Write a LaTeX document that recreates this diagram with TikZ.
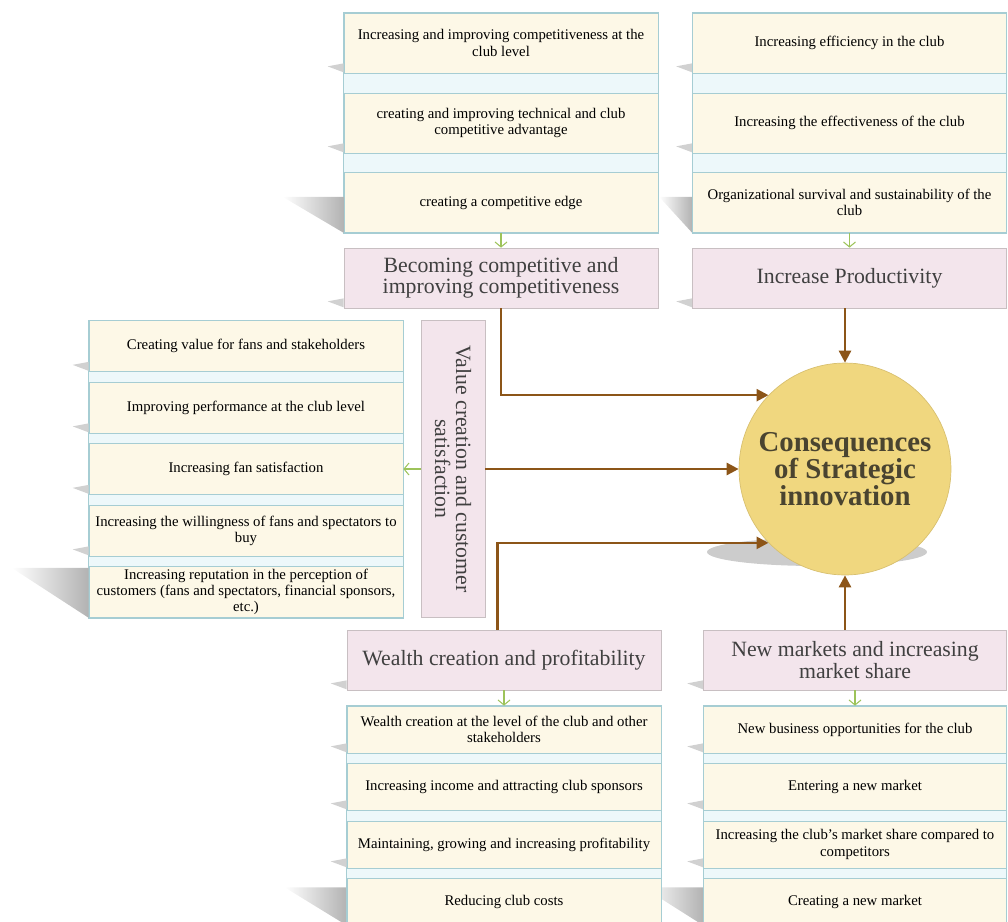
\documentclass[tikz,border=0pt]{standalone}
\usepackage{fontspec}
\setmainfont{Liberation Serif}
\usetikzlibrary{arrows.meta, positioning, fit, backgrounds, calc}
\definecolor{itemFill}{HTML}{FDF8E7}
\definecolor{itemLine}{HTML}{A6CDD3}
\definecolor{listFill}{HTML}{EDF8FA}
\definecolor{headFill}{HTML}{F3E5EC}
\definecolor{headLine}{HTML}{C8BFC2}
\definecolor{headText}{HTML}{404040}
\definecolor{circFill}{HTML}{F0D77F}
\definecolor{circLine}{HTML}{D8C070}
\definecolor{circText}{HTML}{4A4430}
\definecolor{arBrown}{HTML}{8C5518}
\definecolor{arGreen}{HTML}{9DC35A}

\begin{document}
\begin{tikzpicture}[
  x=0.02cm, y=-0.02cm,
  item/.style={draw=itemLine, fill=itemFill, minimum width=6.28cm, minimum height=1.2cm,
               align=center, inner sep=0pt, font=\fontsize{8.4}{9.2}\selectfont},
  litem/.style={item, minimum height=1.02cm},
  bitem/.style={item, minimum height=0.94cm},
  ritem/.style={bitem, minimum width=6.06cm},
  head/.style={draw=headLine, fill=headFill, minimum width=6.28cm, minimum height=1.2cm,
               align=center, inner sep=0pt, text=headText, font=\fontsize{12.4}{12}\selectfont},
  list/.style={draw=itemLine, fill=listFill, inner sep=0pt},
  circ/.style={circle, draw=circLine, fill=circFill, minimum size=4.24cm, align=center,
               text=circText, font=\fontsize{16.4}{15.4}\selectfont\bfseries},
  shd/.style={left color=white, right color=black!30},
  sliver/.style={fill=black!18},
  ar/.style={-{Triangle[length=2.4mm, width=2.4mm]}, draw=arBrown, line width=1.5pt},
  gar/.style={-{Straight Barb[length=1mm, width=2.4mm]}, draw=arGreen, line width=0.6pt}
]
\useasboundingbox (0,0) rectangle (1008,921);

\node[item] (c1) at (501,43)    {Increasing and improving competitiveness at the\\ club level};
\node[item] (c2) at (501,123)   {creating and improving technical and club\\ competitive advantage};
\node[item] (c3) at (501,202.5) {creating a competitive edge};
\node[head] (comp) at (501,278) {Becoming competitive and\\ improving competitiveness};

\node[item] (p1) at (849.5,43)    {Increasing efficiency in the club};
\node[item] (p2) at (849.5,123)   {Increasing the effectiveness of the club};
\node[item] (p3) at (849.5,202.5) {Organizational survival and sustainability of the\\ club};
\node[head] (prod) at (849.5,278) {Increase Productivity};

\node[litem] (l1) at (246,346)   {Creating value for fans and stakeholders};
\node[litem] (l2) at (246,407.5) {Improving performance at the club level};
\node[litem] (l3) at (246,469)   {Increasing fan satisfaction};
\node[litem] (l4) at (246,530.5) {Increasing the willingness of fans and spectators to\\ buy};
\node[litem] (l5) at (246,592)   {Increasing reputation in the perception of\\ customers (fans and spectators, financial sponsors,\\ etc.)};
\node[head, rotate=-90, minimum width=5.94cm, minimum height=1.28cm] (val) at (453,469)
  {Value creation and customer\\ satisfaction};

\node[circ] (circ) at (845,469) {Consequences\\ of Strategic\\ innovation};

\node[head] (wealth) at (504,660) {Wealth creation and profitability};
\node[bitem] (w1) at (504,729.5) {Wealth creation at the level of the club and other\\ stakeholders};
\node[bitem] (w2) at (504,786.5) {Increasing income and attracting club sponsors};
\node[bitem] (w3) at (504,844.5) {Maintaining, growing and increasing profitability};
\node[bitem] (w4) at (504,901.5) {Reducing club costs};

\node[head, minimum width=6.06cm] (mkt) at (855,660) {New markets and increasing\\ market share};
\node[ritem] (m1) at (855,729.5) {New business opportunities for the club};
\node[ritem] (m2) at (855,786.5) {Entering a new market};
\node[ritem] (m3) at (855,844.5) {Increasing the club's market share compared to\\ competitors};
\node[ritem] (m4) at (855,901.5) {Creating a new market};

\begin{scope}[on background layer]
  \node[list, fit=(c1)(c3)] (clist) {};
  \node[list, fit=(p1)(p3)] (plist) {};
  \node[list, fit=(l1)(l5)] (llist) {};
  \node[list, fit=(w1)(w4)] (wlist) {};
  \node[list, fit=(m1)(m4)] (mlist) {};
  \shade[shd] ($(c3.south west)+(0,-36)$) -- ++(-61,0) -- (c3.south west) -- cycle;
  \shade[shd] ($(p3.south west)+(0,-36)$) -- ++(-33,0) -- (p3.south west) -- cycle;
  \shade[shd] ($(l5.south west)+(0,-50)$) -- ++(-77,0) -- (l5.south west) -- cycle;
  \shade[shd] ($(w4.south west)+(0,-38)$) -- ++(-62,0) -- (w4.south west) -- cycle;
  \shade[shd] ($(m4.south west)+(0,-38)$) -- ++(-60,0) -- (m4.south west) -- cycle;
  \foreach \n in {c1,c2,comp,p1,p2,prod,l1,l2,l3,l4,wealth,w1,w2,w3,mkt,m1,m2,m3}
    \fill[sliver] ($(\n.south west)+(0,-10)$) -- ++(-16,3) -- ($(\n.south west)+(0,-1)$) -- cycle;
  \fill[black!20] ($(circ.center)+(-28,83)$) ellipse [x radius=2.2cm, y radius=0.28cm];
\end{scope}

\draw[gar] (c3.south) -- (comp.north);
\draw[gar] (p3.south) -- (prod.north);
\draw[gar] (val.south) -- (l3.east);
\draw[gar] (wealth.south) -- (w1.north);
\draw[gar] (mkt.south) -- (m1.north);

\draw[ar] (comp.south) |- (circ.136);
\draw[ar] (circ.north |- prod.south) -- (circ.north);
\draw[ar] (val.north) -- (circ.west);
\draw[ar] ([xshift=-0.13cm]wealth.north) |- (circ.224);
\draw[ar] (circ.south |- mkt.north) -- (circ.south);
\end{tikzpicture}
\end{document}
